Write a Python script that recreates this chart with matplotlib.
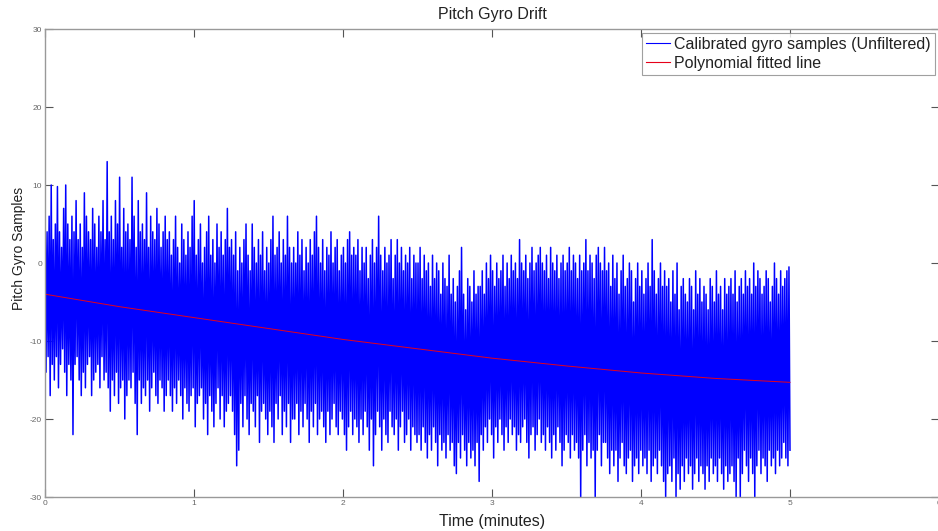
import numpy as np
import matplotlib
matplotlib.use("Agg")
import matplotlib.pyplot as plt

plt.rcParams['font.family'] = ['Liberation Sans', 'DejaVu Sans']
plt.rcParams['axes.unicode_minus'] = False
plt.rcParams['path.simplify'] = False
plt.rcParams['agg.path.chunksize'] = 0

# ---- data ----
# upper excursions of the raw gyro trace (one per sample pair, 0..5 min)
highs = [
    10, 4, 6, 10, 3, 5, 9.8, 4, 2, 7, 10, 5, 3, 6, 4, 8, 3, 5, 2, 9, 6, 4, 3, 7, 5, 2, 6, 4, 8, 3,
    13, 4, 6, 3, 8, 5, 11, 2, 7, 4, 5, 3, 11, 6, 2, 8, 4, 5, 3, 9, 2, 6, 4, 3, 7, 5, 2, 4, 6, 3,
    4, 1, 3, 6, 2, 0, 5, 3, 1, 4, 2, 6, 8, 1, 3, 5, 0, 2, 4, 6, 1, 3, 0, 5, 2, 4, 1, 3, 7, 2,
    3, 1, 4, -1, 2, 0, 3, 5, 1, -1, 5, 2, 0, 3, 1, 4, -1, 2, 0, 3, 6, 1, 2, 4, 0, 3, 1, 6, 2, 0,
    2, 0, 4, 1, 3, -1, 2, 0, 3, 1, 4, 6, 2, 0, 3, -1, 2, 1, 4, 0, 2, 3, -1, 1, 2, 0, 3, 4, 1, 2,
    1, 3, -1, 2, 0, 2, -2, 1, 3, 0, 2, 6, 1, -1, 2, 0, 1, 3, -2, 1, 3, 0, 2, -1, 1, 0, 2, -2, 1, 0,
    0, 2, -2, 1, -1, 0, -3, 1, -2, 0, -1, -4, 0, -2, -3, 1, -4, -2, -5, -3, -1, 2, -4, -6, -2, -3, -5, -1, -4, -3,
    -3, -1, -4, 0, -2, 1, -1, -3, 0, -2, -1, 1, -3, 0, -2, 1, -1, 0, -2, 3, 0, -1, 1, -2, 0, 2, -1, 0, 1, 2,
    0, -1, 1, -2, 2, 0, -1, 1, -2, 0, 1, -1, 0, 2, -1, 1, 0, -2, 1, -1, 0, 3, -1, 1, 0, -2, 1, 2, 0, -1,
    2, -1, 0, -3, 1, -2, 0, -4, -1, 1, -3, -2, 0, -1, -5, -2, 0, -3, -1, -4, -2, 0, -3, 3, -1, -4, -2, 0, -3, -1,
    -3, -2, -5, -1, -4, 0, -6, -3, -2, -4, -5, -2, -3, -6, -1, -4, -2, -5, -3, -4, -6, -2, -3, -5, -1, -4, -3, -6, -2, -4,
    -3, -2, -4, -1, -5, -3, -2, -4, -1, -3, -2, -4, 0, -3, -1, -2, -4, -3, -1, -2, -5, -3, 0, -2, -4, -1, -3, -2, -1, -0.5,
]
# lower excursions of the raw gyro trace
lows = [
    -14, -12, -17, -13, -15, -12, -16, -13, -11, -14, -17, -13, -15, -22, -13, -12, -15, -17, -14, -16, -13, -12, -17, -15, -14, -13, -16, -12, -15, -14,
    -16, -19, -15, -17, -14, -18, -16, -15, -20, -17, -15, -16, -14, -18, -22, -15, -18, -16, -17, -15, -19, -16, -14, -17, -18, -15, -16, -19, -17, -15,
    -17, -19, -16, -18, -15, -17, -20, -16, -18, -19, -17, -16, -21, -18, -17, -16, -20, -18, -22, -17, -19, -21, -18, -16, -20, -17, -21, -19, -18, -17,
    -19, -22, -26, -24, -18, -21, -17, -20, -22, -18, -19, -21, -17, -23, -19, -18, -20, -22, -19, -21, -23, -18, -20, -17, -22, -19, -21, -18, -23, -20,
    -20, -18, -22, -19, -21, -18, -20, -23, -19, -21, -18, -22, -20, -19, -21, -23, -19, -22, -20, -18, -21, -22, -19, -20, -22, -24, -21, -19, -22, -20,
    -21, -23, -20, -22, -19, -21, -24, -20, -26, -22, -19, -21, -24, -20, -22, -23, -19, -21, -22, -20, -24, -21, -19, -23, -22, -20, -24, -21, -22, -23,
    -22, -24, -21, -23, -25, -22, -24, -21, -23, -26, -22, -24, -23, -25, -22, -24, -23, -26, -27, -23, -25, -22, -24, -26, -23, -25, -24, -26, -23, -28,
    -22, -24, -21, -23, -20, -22, -25, -21, -23, -20, -22, -24, -21, -23, -20, -22, -21, -24, -22, -23, -21, -20, -23, -25, -22, -21, -24, -22, -20, -23,
    -22, -24, -21, -23, -25, -22, -24, -21, -23, -26, -24, -22, -23, -25, -22, -24, -23, -25, -30, -24, -22, -26, -23, -25, -24, -30, -24, -22, -26, -23,
    -23, -25, -27, -24, -26, -24, -28, -25, -23, -26, -27, -25, -24, -28, -26, -25, -27, -24, -26, -25, -27, -24, -28, -26, -25, -27, -24, -26, -28, -30,
    -27, -26, -28, -25, -30, -27, -29, -26, -28, -25, -27, -26, -29, -27, -25, -28, -26, -27, -29, -26, -28, -25, -27, -26, -28, -25, -27, -29, -26, -28,
    -27, -26, -28, -30, -25, -30, -27, -24, -26, -28, -25, -27, -30, -26, -24, -27, -25, -26, -28, -24, -26, -25, -27, -24, -26, -25, -23, -25, -26, -24,
]
# polynomial fitted line, read every half minute
fit_time = [0, 0.5, 1.0, 1.5, 2.0, 2.5, 3.0, 3.5, 4.0, 4.5, 5.0]
fit_vals = [-4.0, -5.6, -7.0, -8.4, -9.8, -11.0, -12.2, -13.2, -14.1, -14.8, -15.3]

x_ticks = [0, 1, 2, 3, 4, 5, 6]
y_ticks = [-30, -20, -10, 0, 10, 20, 30]
title = "Pitch Gyro Drift"
xlabel = "Time (minutes)"
ylabel = "Pitch Gyro Samples"
labels = ["Calibrated gyro samples (Unfiltered)", "Polynomial fitted line"]

# interleave high/low excursions into one sample sequence
n = min(len(highs), len(lows))
samples = np.empty(2 * n)
samples[0::2] = highs[:n]
samples[1::2] = lows[:n]
t = np.linspace(0, 5, len(samples))

fig = plt.figure(figsize=(9.38, 5.31), dpi=100)
ax = fig.add_axes([45 / 938, 1 - 497 / 531, (939 - 45) / 938, (497 - 29) / 531])

ax.plot(t, samples, color=(0, 0, 1), lw=1.1, label=labels[0],
        solid_joinstyle='round')
ax.plot(fit_time, fit_vals, color=(0.9, 0, 0.1), lw=0.7, label=labels[1])

ax.set_xlim(0, 6)
ax.set_ylim(-30, 30)
ax.set_xticks(x_ticks)
ax.set_yticks(y_ticks)
ax.tick_params(direction='in', length=6, width=0.8, colors='#555555',
               labelsize=6, top=True, right=True, pad=2, labelcolor='#666666')
for s in ax.spines.values():
    s.set_color('#999999')
    s.set_linewidth(1.0)

ax.set_title(title, fontsize=11.5, color='#222222', pad=7)
ax.set_xlabel(xlabel, fontsize=11.5, color='#222222', labelpad=5)
ax.set_ylabel(ylabel, fontsize=10, color='#222222')
ax.yaxis.set_label_coords(-0.0215, 0.532)

leg = ax.legend(loc='upper right', fontsize=11.5, frameon=True, fancybox=False,
                handlelength=1.5, handletextpad=0.3, borderpad=0.25,
                labelspacing=0.25, borderaxespad=0.25)
leg.get_frame().set_edgecolor('#888888')
leg.get_frame().set_linewidth(0.8)
for txt in leg.get_texts():
    txt.set_color('#222222')
    
for line in leg.get_lines():
    line.set_linewidth(0.8)

fig.savefig("out.png", dpi=100)
